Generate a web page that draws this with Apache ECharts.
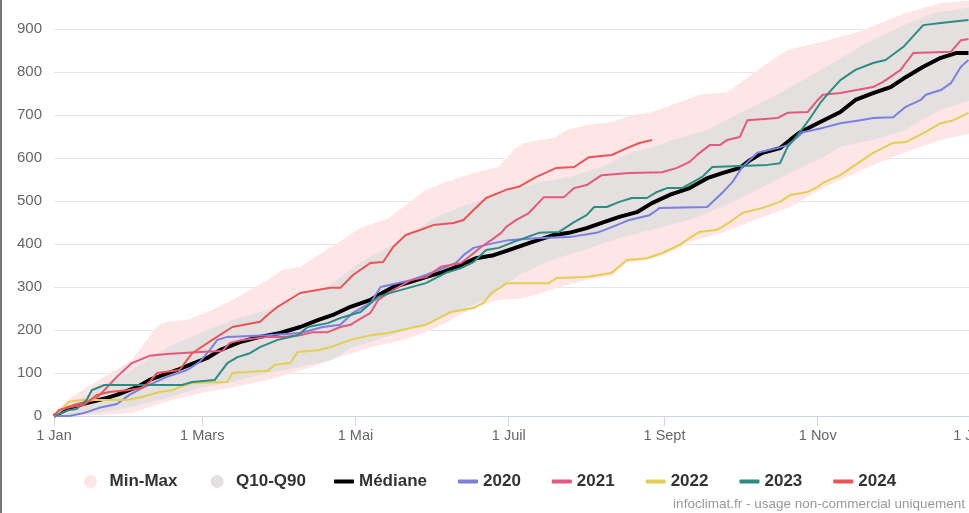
<!DOCTYPE html>
<html><head><meta charset="utf-8">
<script src="https://cdn.jsdelivr.net/npm/echarts@6.0.0/dist/echarts.min.js"></script>
<style>
html,body{margin:0;padding:0;background:#fff;}
#c{width:969px;height:513px;}
#edge{position:absolute;left:0;top:0;width:2px;height:513px;background:#777;}
</style>
</head><body><div id="c"></div><div id="edge"></div>
<script>
// x axis: day of year
const tickDays = [0, 59, 120, 181, 243, 304, 365];
const tickLabels = ['1 Jan', '1 Mars', '1 Mai', '1 Juil', '1 Sept', '1 Nov', '1 Jan'];

// [day, cumulative value]
const bandMax = [[0,0],[5,37],[18,84],[31,130],[41,209],[45,219],[53,223],[63,247],[71,270],[85,316],[91,340],[98,347],[105,374],[110,391],[122,437],[133,460],[139,486],[148,526],[156,544],[168,567],[177,579],[183,619],[187,635],[199,647],[204,665],[212,677],[222,684],[230,700],[237,705],[244,719],[257,747],[268,753],[273,774],[284,821],[292,851],[308,874],[320,893],[339,937],[353,960],[365,967]];
const bandMin = [[0,0],[18,2],[31,7],[38,21],[47,37],[58,53],[71,67],[85,84],[95,100],[105,119],[114,137],[126,160],[139,177],[148,195],[156,216],[163,240],[170,258],[177,270],[185,272],[193,284],[200,298],[212,316],[222,326],[228,356],[236,363],[242,372],[249,391],[253,405],[266,426],[280,458],[293,486],[306,530],[313,549],[326,584],[339,614],[353,642],[365,658]];
const bandQ90 = [[0,0],[18,67],[31,107],[45,160],[58,193],[71,223],[85,247],[98,277],[110,305],[122,358],[138,409],[152,463],[166,495],[179,519],[192,542],[205,556],[218,579],[230,614],[237,623],[246,642],[260,665],[273,705],[286,742],[300,788],[310,821],[323,867],[337,905],[350,937],[365,951]];
const bandQ10 = [[0,0],[18,7],[31,21],[45,42],[58,65],[71,79],[85,100],[98,114],[110,130],[119,160],[132,184],[146,207],[159,240],[172,270],[185,328],[198,363],[212,388],[225,414],[238,433],[253,456],[266,486],[280,526],[293,565],[306,602],[313,626],[326,642],[339,665],[345,688],[353,712],[365,735]];

const median = [[0,0],[6,19],[13,30],[21,42],[25,49],[33,67],[38,84],[49,107],[54,119],[61,135],[66,153],[74,172],[82,184],[90,193],[98,207],[105,223],[111,235],[118,254],[126,270],[129,281],[135,300],[142,312],[148,323],[155,335],[162,351],[168,367],[175,374],[181,386],[189,402],[199,421],[205,426],[212,437],[218,449],[225,463],[232,474],[238,495],[245,514],[253,530],[260,553],[266,565],[273,577],[277,595],[282,612],[289,623],[293,642],[297,660],[304,681],[313,707],[319,735],[326,751],[333,765],[339,788],[346,812],[353,833],[359,844],[364,844]];
const y2020 = [[0,0],[6,0],[12,7],[18,19],[25,28],[30,49],[35,65],[45,91],[53,107],[58,126],[62,153],[65,177],[69,184],[85,188],[98,193],[107,207],[114,212],[119,240],[126,263],[130,300],[134,305],[142,316],[148,328],[155,344],[160,356],[163,374],[167,391],[175,402],[181,409],[193,414],[205,416],[216,426],[221,437],[224,444],[229,456],[237,467],[240,479],[241,484],[260,486],[266,519],[270,544],[274,579],[280,612],[288,623],[292,630],[296,649],[298,660],[306,670],[313,681],[321,688],[326,693],[334,695],[339,719],[345,735],[347,747],[353,758],[357,774],[361,812],[364,828]];
const y2021 = [[0,0],[3,14],[8,26],[16,37],[20,60],[25,91],[31,123],[38,140],[45,144],[53,147],[58,149],[67,151],[70,170],[75,177],[85,184],[91,184],[98,188],[103,195],[109,195],[114,207],[118,212],[121,223],[126,240],[129,270],[135,293],[142,316],[148,323],[154,347],[162,356],[166,374],[170,393],[174,409],[178,426],[180,440],[184,456],[189,472],[195,509],[203,509],[207,530],[212,537],[218,560],[229,565],[242,567],[248,577],[253,591],[257,612],[261,630],[265,630],[268,642],[273,649],[276,688],[288,693],[292,705],[300,707],[304,735],[306,747],[313,751],[326,765],[330,777],[337,805],[339,821],[342,844],[357,847],[361,874],[364,877]];
const y2022 = [[0,0],[3,14],[6,33],[11,37],[29,37],[35,44],[42,56],[47,60],[50,67],[55,77],[69,79],[71,100],[85,105],[88,119],[94,123],[97,149],[105,153],[110,160],[118,177],[126,188],[133,193],[142,205],[148,212],[154,230],[158,242],[167,251],[171,263],[174,286],[178,300],[180,309],[197,309],[200,321],[212,323],[217,328],[222,333],[228,363],[236,367],[242,379],[249,398],[253,414],[257,428],[264,433],[269,451],[274,472],[282,484],[289,498],[293,514],[300,521],[304,533],[306,542],[313,560],[320,588],[326,612],[334,635],[339,637],[346,658],[353,681],[358,688],[364,705]];
const y2023 = [[0,0],[6,14],[9,16],[13,37],[15,60],[20,72],[51,72],[55,79],[64,84],[69,123],[73,137],[78,146],[82,160],[89,177],[97,188],[101,207],[109,216],[114,228],[122,242],[129,277],[135,288],[148,309],[156,333],[162,344],[167,358],[172,386],[177,391],[183,405],[193,426],[201,428],[207,451],[212,467],[215,486],[220,486],[225,498],[230,507],[236,507],[240,521],[244,530],[250,530],[253,540],[258,556],[262,579],[284,584],[289,588],[292,626],[296,653],[301,693],[305,728],[308,749],[313,781],[319,805],[326,821],[331,828],[338,858],[346,909],[353,914],[364,921]];
const y2024 = [[0,0],[2,14],[5,19],[12,26],[17,49],[22,56],[29,60],[35,65],[38,79],[41,100],[50,107],[55,146],[63,177],[71,207],[82,219],[85,235],[89,254],[98,286],[110,298],[114,298],[119,328],[126,356],[131,358],[135,393],[140,421],[146,433],[151,444],[159,449],[163,456],[167,479],[172,507],[180,526],[185,533],[192,556],[200,577],[207,579],[213,602],[222,607],[228,623],[233,635],[238,642]];

const FONT = '"Liberation Sans", Arial, sans-serif';

function band(name, lo, hi, color, z) {
  return {
    type: 'custom', name: name, z: z, silent: true, clip: true,
    itemStyle: { color: color },
    data: [[0, 0]],
    renderItem: function (params, api) {
      const pts = [];
      hi.forEach(p => pts.push(api.coord(p)));
      for (let i = lo.length - 1; i >= 0; i--) pts.push(api.coord(lo[i]));
      return { type: 'polygon', shape: { points: pts }, style: { fill: color } };
    }
  };
}
function line(name, data, color, width, z) {
  return {
    type: 'line', name: name, data: data, z: z, silent: true,
    showSymbol: false, symbol: 'none',
    lineStyle: { color: color, width: width, join: 'round' },
    itemStyle: { color: color }
  };
}

const chart = echarts.init(document.getElementById('c'), null, { renderer: 'canvas' });
chart.setOption({
  animation: false,
  backgroundColor: '#fff',
  grid: { left: 54, top: -14, width: 917, height: 430, containLabel: false, outerBoundsMode: 'none' },
  xAxis: {
    type: 'value', min: 0, max: 365,
    axisLine: { show: true, lineStyle: { color: '#ccd6eb', width: 1 } },
    axisTick: { show: true, customValues: tickDays, length: 10, lineStyle: { color: '#ccd6eb' } },
    axisLabel: {
      customValues: tickDays, margin: 12, color: '#666', fontSize: 14.5, fontFamily: FONT,
      hideOverlap: false,
      formatter: function (v) { const i = tickDays.indexOf(v); return i >= 0 ? tickLabels[i] : ''; }
    },
    splitLine: { show: false }
  },
  yAxis: {
    type: 'value', min: 0, max: 1000, interval: 100,
    axisLine: { show: false }, axisTick: { show: false },
    axisLabel: { margin: 12, color: '#666', fontSize: 15, fontFamily: FONT, formatter: function (v) { return String(v); } },
    splitLine: { lineStyle: { color: '#e6e6e6', width: 1 } }
  },
  legend: [
    {
      data: ['Min-Max', 'Q10-Q90'], icon: 'circle', itemWidth: 28, itemHeight: 13,
      left: 79, top: 468, itemGap: 33, selectedMode: false,
      textStyle: { fontSize: 17, fontWeight: 'bold', color: '#333', fontFamily: FONT }
    },
    {
      data: ['Médiane', '2020', '2021', '2022', '2023', '2024'], icon: 'roundRect',
      itemWidth: 20, itemHeight: 4, left: 329, top: 468, itemGap: 31, selectedMode: false,
      textStyle: { fontSize: 17, fontWeight: 'bold', color: '#333', fontFamily: FONT }
    }
  ],
  graphic: [{
    type: 'text', right: 4, top: 497,
    style: { text: 'infoclimat.fr - usage non-commercial uniquement', fill: '#999', font: '13.5px ' + FONT }
  }],
  series: [
    band('Min-Max', bandMin, bandMax, '#ffe6e6', 1),
    band('Q10-Q90', bandQ10, bandQ90, '#e4e0e0', 2),
    line('Médiane', median, '#000000', 4, 3),
    line('2020', y2020, '#7b7fe3', 2, 4),
    line('2021', y2021, '#e5587d', 2, 5),
    line('2022', y2022, '#e3cf4f', 2, 6),
    line('2023', y2023, '#2b8c84', 2, 7),
    line('2024', y2024, '#ec5454', 2, 8)
  ]
});
</script></body></html>
